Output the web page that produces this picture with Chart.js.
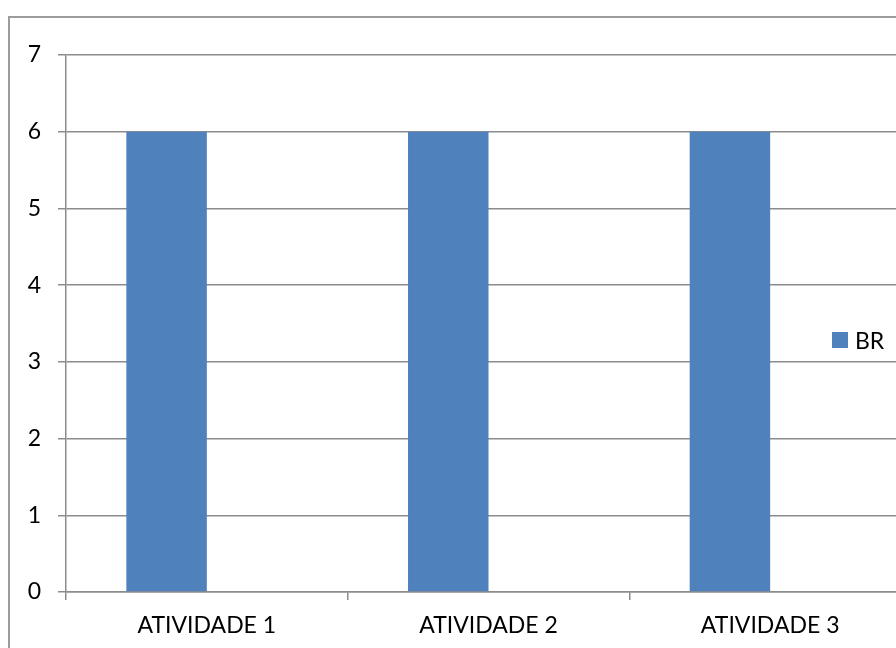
<!DOCTYPE html>
<html>
<head>
<meta charset="utf-8">
<script src="https://cdn.jsdelivr.net/npm/chart.js@4.4.1/dist/chart.umd.min.js"></script>
<style>
  html, body { margin: 0; padding: 0; width: 896px; height: 648px; overflow: hidden; background: #fff; }
  #frame { position: absolute; left: 8px; top: 16px; width: 1000px; height: 1000px;
           border: 2px solid #9c9c9c; box-sizing: border-box; }
  #wrap { position: absolute; left: 0; top: 0; width: 911px; height: 700px; }
  #legend { position: absolute; left: 832px; top: 326px; font: 23px Lato, sans-serif; color: #000;
            display: flex; align-items: center; }
  #legend .sw { display: inline-block; width: 16px; height: 16px; margin-right: 7px; }
</style>
</head>
<body>
<div id="frame"></div>
<div id="wrap"><canvas id="chart" width="911" height="700"></canvas></div>
<div id="legend"></div>
<script>
// Activities on the category axis
const categories = ['ATIVIDADE 1', 'ATIVIDADE 2', 'ATIVIDADE 3'];
// Series "BR"
const brValues = [6, 6, 6];
// Second series slot (no values entered)
const emptySeries = [null, null, null];
// Value axis range
const yMin = 0;
const yMax = 7;
const yStep = 1;

const gridColor = '#8c8c8c';
const font = { family: 'Lato', size: 23 };

const chart = new Chart(document.getElementById('chart'), {
  type: 'bar',
  data: {
    labels: categories,
    datasets: [
      { label: 'BR', data: brValues, backgroundColor: '#4F81BD',
        categoryPercentage: 2 / 3.5, barPercentage: 1 },
      { label: '', data: emptySeries, backgroundColor: '#C0504D',
        categoryPercentage: 2 / 3.5, barPercentage: 1 }
    ]
  },
  options: {
    responsive: false,
    animation: false,
    layout: { padding: { top: 55, left: 0, right: 0, bottom: 0 } },
    plugins: { legend: { display: false }, tooltip: { enabled: false } },
    scales: {
      x: {
        offset: true,
        grid: { display: true, drawOnChartArea: false, color: gridColor, lineWidth: 1.5, tickLength: 8, offset: true },
        border: { color: gridColor, width: 1.5 },
        ticks: { font: font, color: '#000', padding: 12, maxRotation: 0 },
        afterFit: (s) => { s.height = 108; }
      },
      y: {
        min: yMin, max: yMax,
        grid: { color: gridColor, lineWidth: 1.5, tickLength: 8 },
        border: { color: gridColor, width: 1.5 },
        ticks: { stepSize: yStep, font: font, color: '#000', padding: 17 },
        afterFit: (s) => { s.width = 66; }
      }
    }
  }
});

// Legend built from the datasets that carry a name
const legendEl = document.getElementById('legend');
chart.data.datasets.filter(d => d.label).forEach(d => {
  const item = document.createElement('span');
  item.style.display = 'inline-flex';
  item.style.alignItems = 'center';
  const sw = document.createElement('span');
  sw.className = 'sw';
  sw.style.background = d.backgroundColor;
  item.appendChild(sw);
  item.appendChild(document.createTextNode(d.label));
  legendEl.appendChild(item);
});
</script>
</body>
</html>
